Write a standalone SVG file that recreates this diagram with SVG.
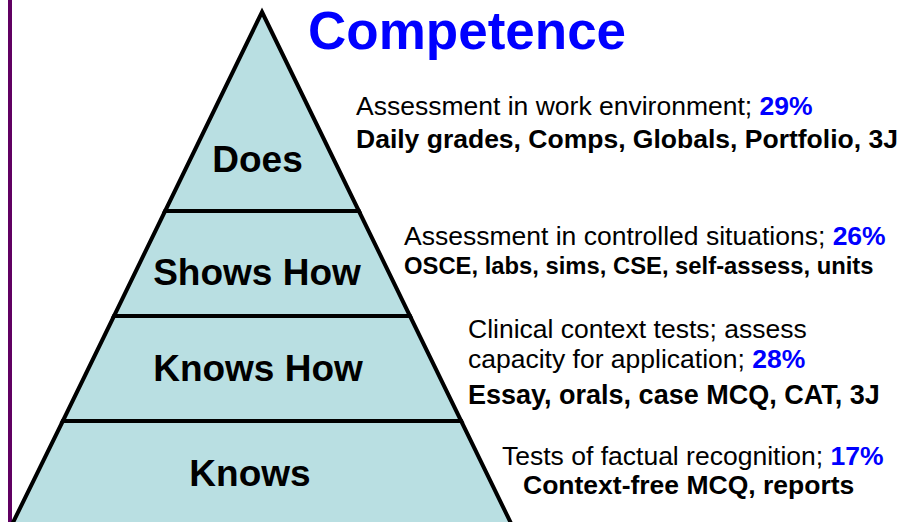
<svg xmlns="http://www.w3.org/2000/svg" width="902" height="522" viewBox="0 0 902 522">
<style>
.tier{fill:#B9DFE2;stroke:#000;stroke-width:4;stroke-linejoin:miter}
.lbl{font-family:"Liberation Sans",Arial,sans-serif;font-weight:bold;font-size:37px;fill:#000;text-anchor:middle}
.desc{font-family:"Liberation Sans",Arial,sans-serif;font-size:26.5px;fill:#000}
.b{font-weight:bold}
.pct{font-weight:bold;fill:#0000FF}
.title{font-family:"Liberation Sans",Arial,sans-serif;font-weight:bold;font-size:53px;fill:#0000FF}
</style>
<rect x="0" y="0" width="902" height="522" fill="#fff"/>
<rect x="8" y="0" width="4" height="522" fill="#600062"/>
<g id="does">
<polygon class="tier" points="262,12 358.9,211 165.1,211"/>
<text class="lbl" x="257.5" y="172">Does</text>
</g>
<g id="shows-how">
<polygon class="tier" points="165.1,211 358.9,211 410,316 114,316"/>
<text class="lbl" x="257" y="285">Shows How</text>
</g>
<g id="knows-how">
<polygon class="tier" points="114,316 410,316 461.2,421 62.8,421"/>
<text class="lbl" x="258" y="381">Knows How</text>
</g>
<g id="knows">
<polygon class="tier" points="62.8,421 461.2,421 512.8,527 10.8,527"/>
<text class="lbl" x="250" y="486">Knows</text>
</g>
<text class="title" x="308" y="49">Competence</text>
<g id="desc-does">
<text class="desc" x="356" y="115">Assessment in work environment; <tspan class="pct">29%</tspan></text>
<text class="desc b" x="356" y="148">Daily grades, Comps, Globals, Portfolio, 3J</text>
</g>
<g id="desc-shows-how">
<text class="desc" x="404" y="245">Assessment in controlled situations; <tspan class="pct">26%</tspan></text>
<text class="desc b" x="404" y="274" style="font-size:23.8px">OSCE, labs, sims, CSE, self-assess, units</text>
</g>
<g id="desc-knows-how">
<text class="desc" x="468" y="338">Clinical context tests; assess</text>
<text class="desc" x="468" y="368">capacity for application; <tspan class="pct">28%</tspan></text>
<text class="desc b" x="468" y="404" style="font-size:27px">Essay, orals, case MCQ, CAT, 3J</text>
</g>
<g id="desc-knows">
<text class="desc" x="502" y="465">Tests of factual recognition; <tspan class="pct">17%</tspan></text>
<text class="desc b" x="523" y="494">Context-free MCQ, reports</text>
</g>
</svg>
